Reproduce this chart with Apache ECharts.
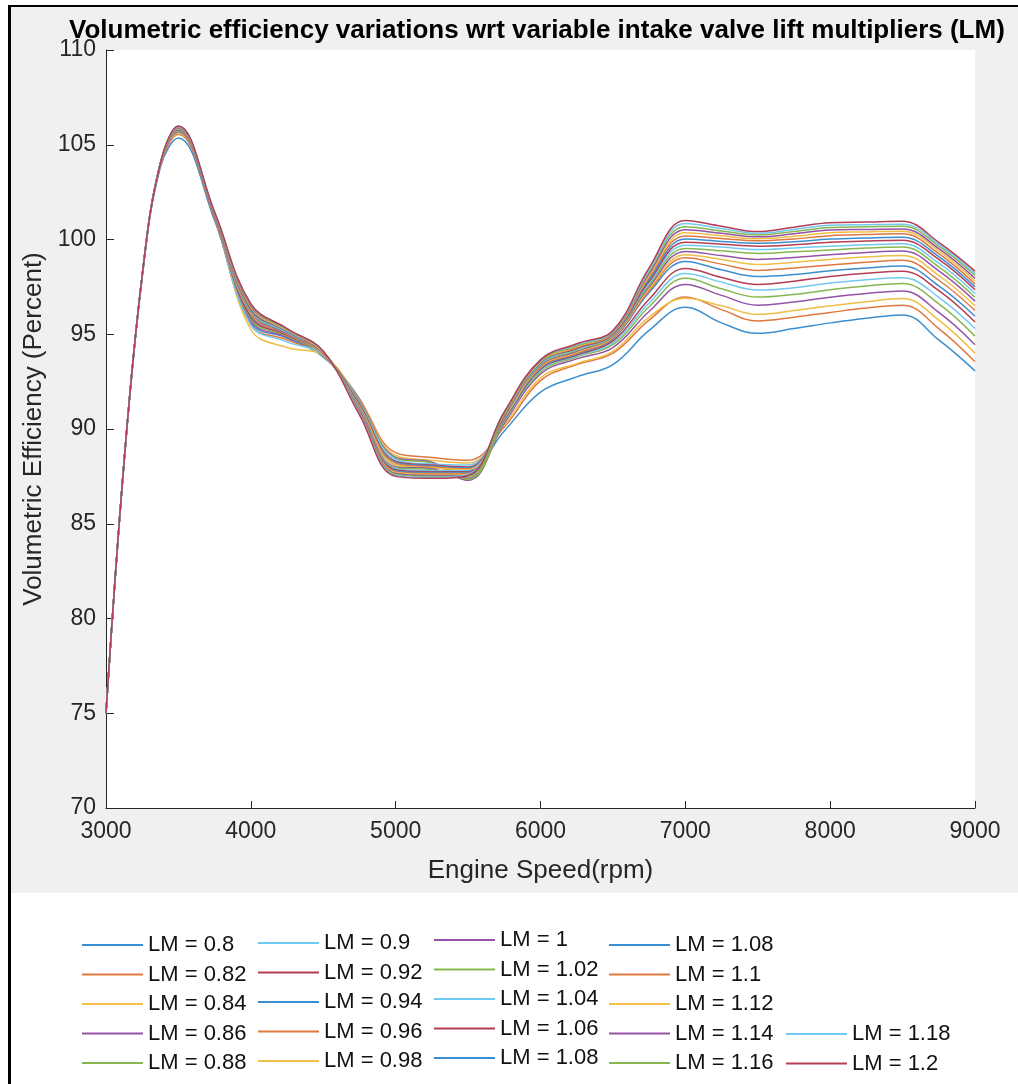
<!DOCTYPE html>
<html>
<head>
<meta charset="utf-8">
<script src="https://cdn.jsdelivr.net/npm/echarts@6/dist/echarts.min.js"></script>
<style>
  html, body { margin: 0; padding: 0; background: #fff; }
  #wrap { position: relative; width: 1018px; height: 1084px; background: #fff; }
  #panel { position: absolute; left: 11px; top: 7px; width: 1007px; height: 886px; background: #f0f0f0; }
  #frame { position: absolute; left: 8px; top: 5px; width: 1010px; height: 1079px; border-left: 3px solid #000; border-top: 2px solid #000; box-sizing: border-box; }
  #chart { position: absolute; left: 0; top: 0; width: 1018px; height: 1084px; }
</style>
</head>
<body>
<div id="wrap">
  <div id="panel"></div>
  <div id="frame"></div>
  <div id="chart"></div>
</div>
<script>
  const speeds = [3000, 3125, 3250, 3375, 3500, 3750, 4000, 4250, 4500, 4750, 5000, 5250, 5500, 5750,
    6000, 6250, 6500, 6750, 7000, 7250, 7500, 7750, 8000, 8250, 8500, 8750, 9000];

  const lmLabels = ["LM = 0.8", "LM = 0.82", "LM = 0.84", "LM = 0.86", "LM = 0.88", "LM = 0.9", "LM = 0.92",
    "LM = 0.94", "LM = 0.96", "LM = 0.98", "LM = 1", "LM = 1.02", "LM = 1.04", "LM = 1.06", "LM = 1.08",
    "LM = 1.1", "LM = 1.12", "LM = 1.14", "LM = 1.16", "LM = 1.18", "LM = 1.2"];

  // volumetric efficiency (%) per LM, one value per entry of speeds
  const ve = [
    [75.0, 88.2, 98.0, 103.8, 105.35, 101.0, 95.6, 94.8, 93.8, 91.6, 88.1, 87.95, 87.85, 89.9, 91.95, 92.75, 93.4, 95.2, 96.42, 95.6, 95.05, 95.3, 95.6, 95.85, 96.02, 94.7, 93.07],
    [75.0, 88.3, 98.1, 103.9, 105.55, 101.1, 95.5, 94.7, 93.85, 91.55, 88.75, 88.5, 88.35, 90.1, 92.55, 93.4, 94.0, 95.75, 96.96, 96.3, 95.7, 95.9, 96.15, 96.38, 96.53, 95.3, 93.55],
    [75.0, 88.3, 98.1, 104.0, 105.62, 101.3, 95.25, 94.3, 93.9, 91.5, 88.6, 88.35, 88.2, 90.2, 92.7, 93.45, 94.1, 95.9, 96.9, 96.5, 96.05, 96.25, 96.5, 96.72, 96.88, 95.75, 94.0],
    [75.0, 88.3, 98.1, 104.0, 105.68, 101.2, 95.7, 94.85, 93.9, 91.45, 88.5, 88.25, 87.4, 90.3, 92.9, 93.7, 94.3, 96.2, 97.63, 97.05, 96.53, 96.7, 96.95, 97.15, 97.28, 96.15, 94.45],
    [75.0, 88.3, 98.1, 104.0, 105.72, 101.2, 95.8, 94.9, 93.9, 91.4, 88.45, 88.2, 87.3, 90.4, 93.0, 93.8, 94.45, 96.45, 97.95, 97.4, 96.96, 97.1, 97.35, 97.55, 97.68, 96.6, 94.9],
    [75.0, 88.3, 98.1, 104.0, 105.76, 101.2, 95.5, 94.6, 93.9, 91.35, 88.4, 88.15, 88.1, 90.45, 93.1, 93.85, 94.55, 96.65, 98.2, 97.75, 97.33, 97.45, 97.7, 97.88, 97.98, 96.95, 95.3],
    [75.0, 88.3, 98.1, 104.0, 105.79, 101.2, 95.9, 94.95, 93.95, 91.3, 88.3, 88.1, 88.0, 90.5, 93.15, 93.9, 94.65, 96.85, 98.47, 98.0, 97.63, 97.8, 98.05, 98.22, 98.33, 97.3, 95.65],
    [75.0, 88.3, 98.1, 104.0, 105.82, 101.2, 96.0, 95.0, 93.95, 91.25, 88.25, 88.05, 87.95, 90.55, 93.2, 93.95, 94.75, 97.2, 98.84, 98.4, 98.05, 98.15, 98.35, 98.5, 98.6, 97.55, 95.95],
    [75.0, 88.3, 98.1, 104.0, 105.84, 101.2, 96.05, 95.0, 93.95, 91.2, 88.2, 88.0, 87.9, 90.6, 93.25, 94.0, 94.8, 97.3, 99.04, 98.7, 98.37, 98.5, 98.65, 98.8, 98.9, 97.85, 96.25],
    [75.0, 88.3, 98.1, 104.0, 105.86, 101.25, 96.1, 95.05, 93.95, 91.15, 88.1, 87.95, 87.85, 90.6, 93.3, 94.05, 94.85, 97.4, 99.2, 98.95, 98.68, 98.8, 98.95, 99.08, 99.16, 98.1, 96.5],
    [75.0, 88.3, 98.1, 104.0, 105.88, 101.25, 96.15, 95.05, 94.0, 91.1, 88.0, 87.9, 87.3, 90.65, 93.35, 94.1, 94.9, 97.5, 99.37, 99.15, 98.95, 99.05, 99.2, 99.32, 99.39, 98.35, 96.75],
    [75.0, 88.3, 98.1, 104.0, 105.9, 101.3, 96.2, 95.1, 94.0, 91.05, 87.95, 87.85, 87.35, 90.65, 93.4, 94.15, 94.93, 97.6, 99.53, 99.4, 99.26, 99.35, 99.45, 99.55, 99.6, 98.55, 96.95],
    [75.0, 88.3, 98.1, 104.0, 105.91, 101.3, 96.25, 95.1, 94.0, 91.0, 87.9, 87.8, 87.8, 90.7, 93.45, 94.2, 94.96, 97.7, 99.7, 99.6, 99.47, 99.55, 99.65, 99.72, 99.77, 98.75, 97.15],
    [75.0, 88.3, 98.1, 104.0, 105.92, 101.3, 96.3, 95.15, 94.0, 90.95, 87.85, 87.75, 87.75, 90.7, 93.5, 94.25, 95.0, 97.8, 99.86, 99.75, 99.65, 99.72, 99.85, 99.92, 99.96, 98.95, 97.35],
    [75.0, 88.3, 98.1, 104.0, 105.93, 101.35, 96.35, 95.15, 94.05, 90.9, 87.8, 87.7, 87.7, 90.75, 93.5, 94.3, 95.03, 97.9, 100.02, 99.9, 99.8, 99.88, 100.02, 100.08, 100.12, 99.1, 97.5],
    [75.0, 88.3, 98.1, 104.0, 105.94, 101.35, 96.4, 95.2, 94.05, 90.9, 87.75, 87.65, 87.65, 90.8, 93.55, 94.3, 95.06, 98.0, 100.19, 100.05, 99.93, 100.03, 100.2, 100.26, 100.3, 99.25, 97.65],
    [75.0, 88.3, 98.1, 104.0, 105.95, 101.4, 96.45, 95.2, 94.05, 90.85, 87.7, 87.6, 87.6, 90.8, 93.55, 94.35, 95.09, 98.1, 100.35, 100.2, 100.04, 100.17, 100.35, 100.4, 100.44, 99.4, 97.8],
    [75.0, 88.3, 98.1, 104.0, 105.96, 101.4, 96.5, 95.25, 94.1, 90.85, 87.65, 87.55, 87.55, 90.85, 93.6, 94.4, 95.12, 98.2, 100.51, 100.33, 100.14, 100.3, 100.5, 100.53, 100.56, 99.52, 97.95],
    [75.0, 88.3, 98.1, 104.0, 105.97, 101.4, 96.55, 95.25, 94.1, 90.8, 87.6, 87.5, 87.5, 90.85, 93.6, 94.4, 95.14, 98.3, 100.67, 100.45, 100.24, 100.42, 100.63, 100.67, 100.7, 99.65, 98.1],
    [75.0, 88.3, 98.1, 104.0, 105.98, 101.45, 96.6, 95.3, 94.1, 90.8, 87.55, 87.45, 87.6, 90.9, 93.65, 94.45, 95.17, 98.4, 100.84, 100.58, 100.33, 100.53, 100.75, 100.78, 100.8, 99.75, 98.2],
    [75.0, 88.3, 98.1, 104.0, 105.99, 101.45, 96.6, 95.3, 94.1, 90.75, 87.5, 87.4, 87.55, 90.9, 93.65, 94.5, 95.2, 98.5, 101.0, 100.7, 100.42, 100.65, 100.88, 100.92, 100.96, 99.85, 98.33]
  ];

  const colors = ["#3b8fd0", "#e07840", "#efbe45", "#9552a6", "#86b850", "#72c9ef", "#b53d55"];

  // legend columns as laid out under the axes (LM = 1.08 is listed twice)
  const legendCols = [
    { names: ["LM = 0.8", "LM = 0.82", "LM = 0.84", "LM = 0.86", "LM = 0.88"], left: 82, top: 934 },
    { names: ["LM = 0.9", "LM = 0.92", "LM = 0.94", "LM = 0.96", "LM = 0.98"], left: 258, top: 932 },
    { names: ["LM = 1", "LM = 1.02", "LM = 1.04", "LM = 1.06", "LM = 1.08"], left: 434, top: 929 },
    { names: ["LM = 1.08", "LM = 1.1", "LM = 1.12", "LM = 1.14", "LM = 1.16"], left: 609, top: 934 },
    { names: ["LM = 1.18", "LM = 1.2"], left: 786, top: 1023 }
  ];

  const font = "'Liberation Sans', Arial, Helvetica, sans-serif";
  const ink = "#262626";

  const chart = echarts.init(document.getElementById("chart"), null, { renderer: "canvas" });

  chart.setOption({
    animation: false,
    backgroundColor: "transparent",
    title: {
      text: "Volumetric efficiency variations wrt variable intake valve lift multipliers (LM)",
      left: 69, top: 18, padding: 0,
      textStyle: { fontFamily: font, fontSize: 26, fontWeight: "bold", color: "#000" }
    },
    grid: { left: 106, right: 43, top: 50, bottom: 276, show: true, backgroundColor: "#fff", borderWidth: 0 },
    legend: legendCols.map((col) => ({
      data: col.names,
      orient: "vertical",
      left: col.left, top: col.top, padding: 0,
      icon: "rect", itemWidth: 61, itemHeight: 2, itemGap: 7.5,
      selectedMode: false,
      textStyle: { fontFamily: font, fontSize: 22, lineHeight: 22, color: "#111" }
    })),
    xAxis: {
      type: "value", min: 3000, max: 9000, interval: 1000,
      name: "Engine Speed(rpm)", nameLocation: "middle", nameGap: 50,
      nameTextStyle: { fontFamily: font, fontSize: 26, color: ink },
      axisLine: { lineStyle: { color: ink, width: 1 } },
      axisTick: { inside: true, length: 7, lineStyle: { color: ink } },
      axisLabel: { fontFamily: font, fontSize: 23, color: ink, margin: 12, formatter: (v) => String(v) },
      splitLine: { show: false }
    },
    yAxis: {
      type: "value", min: 70, max: 110, interval: 5,
      name: "Volumetric Efficiency (Percent)", nameLocation: "middle", nameGap: 52,
      nameTextStyle: { fontFamily: font, fontSize: 26, color: ink },
      axisLine: { show: true, lineStyle: { color: ink, width: 1 } },
      axisTick: { show: true, inside: true, length: 8, lineStyle: { color: ink } },
      axisLabel: { fontFamily: font, fontSize: 23, color: ink, margin: 10 },
      splitLine: { show: false }
    },
    series: ve.map((vals, i) => ({
      name: lmLabels[i],
      type: "line",
      data: speeds.map((s, k) => [s, vals[k]]),
      symbol: "none",
      smooth: 0.4,
      color: colors[i % colors.length],
      lineStyle: { width: 1.5, color: colors[i % colors.length] }
    }))
  });
</script>
</body>
</html>
